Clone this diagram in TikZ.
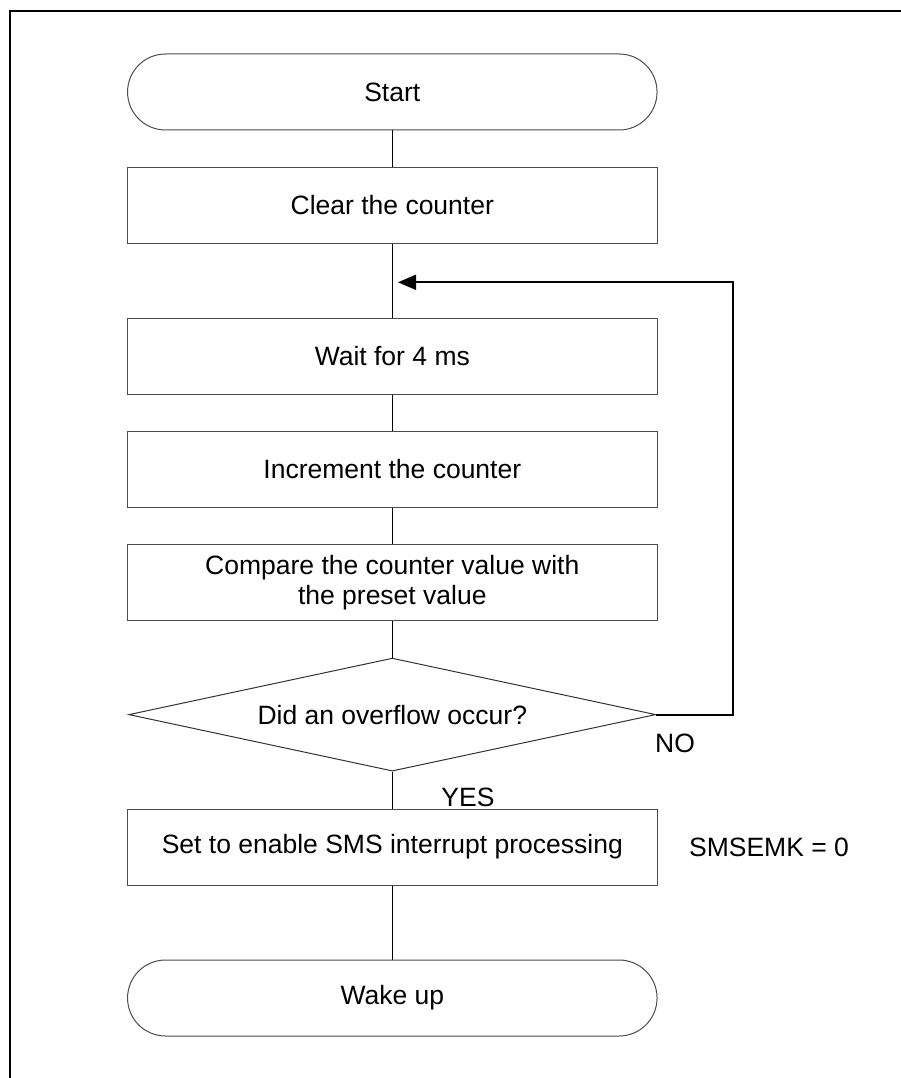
\documentclass[tikz,border=0pt]{standalone}
\usepackage{fontspec}
\setmainfont{Liberation Sans}
\usetikzlibrary{shapes.geometric,arrows.meta}
\begin{document}
\begin{tikzpicture}[x=1pt,y=-1pt,
  every node/.style={font=\fontsize{26.5}{30.5}\selectfont},
  procbox/.style={draw=black!70,line width=1pt,minimum width=529.5pt,minimum height=76pt,inner sep=0pt,align=center},
  termbox/.style={procbox,rounded corners=38pt},
  decbox/.style={draw=black!80,line width=1pt,diamond,minimum width=527pt,minimum height=113pt,inner sep=0pt},
  conn/.style={draw=black,line width=1pt},
  loopline/.style={draw=black,line width=1.8pt,-{Triangle[length=18pt,width=15pt]}},
  plain/.style={inner sep=0pt}]
\useasboundingbox (0,0) rectangle (901,1078);
% frame
\draw[line width=2.3pt] (10,1078) -- (10,11) -- (901,11);
% nodes
\node[termbox] (start) at (392.3,92) {Start};
\node[procbox] (clear) at (392.3,205.5) {Clear the counter};
\node[procbox] (wait) at (392.3,356) {Wait for 4 ms};
\node[procbox] (incr) at (392.3,469) {Increment the counter};
\node[procbox] (comp) at (392.3,582.7) {Compare the counter value with\\the preset value};
\node[decbox] (dia) at (392.3,714.6) {};
\node[plain] (diat) at (392.3,714.6) {Did an overflow occur?};
\node[procbox] (set) at (392.3,847) {Set to enable SMS interrupt processing};
\node[termbox] (wake) at (392.3,998) {Wake up};
\node[plain] (no) at (675,743) {NO};
\node[plain] (yes) at (468,797) {YES};
\node[plain] (sms) at (769,847) {SMSEMK = 0};
\coordinate (lp1) at (733,714.6);
\coordinate (lp2) at (733,282.3);
\coordinate (tip) at (398,282.3);
% connectors
\draw[conn] (start.south) -- (clear.north);
\draw[conn] (clear.south) -- (wait.north);
\draw[conn] (wait.south) -- (incr.north);
\draw[conn] (incr.south) -- (comp.north);
\draw[conn] (comp.south) -- (dia.north);
\draw[conn] (dia.south) -- (set.north);
\draw[conn] (set.south) -- (wake.north);
\draw[loopline] (dia.east) -- (lp1) -- (lp2) -- (tip);
\end{tikzpicture}
\end{document}
